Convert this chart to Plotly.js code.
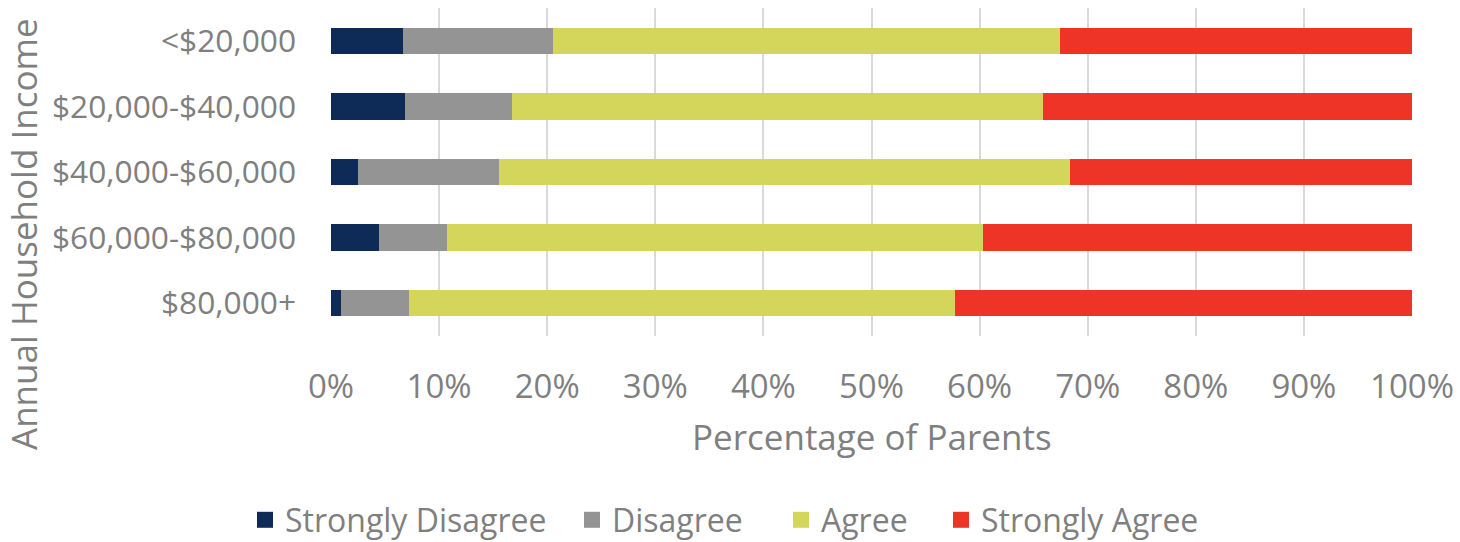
<!DOCTYPE html>
<html>
<head>
<meta charset="utf-8">
<script src="https://cdn.plot.ly/plotly-3.0.1.min.js"></script>
<style>html,body{margin:0;padding:0;background:#fff;}#chart{width:1460px;height:542px;}</style>
</head>
<body>
<div id="chart"></div>
<script>
const categories = ["<$20,000", "$20,000-$40,000", "$40,000-$60,000", "$60,000-$80,000", "$80,000+"];
const seriesNames = ["Strongly Disagree", "Disagree", "Agree", "Strongly Agree"];
const stronglyDisagree = [0.067, 0.068, 0.025, 0.044, 0.009];
const disagree = [0.138, 0.099, 0.130, 0.063, 0.063];
const agree = [0.469, 0.492, 0.529, 0.496, 0.505];
const stronglyAgree = [0.326, 0.341, 0.316, 0.397, 0.423];
const xTickVals = [0, 0.1, 0.2, 0.3, 0.4, 0.5, 0.6, 0.7, 0.8, 0.9, 1.0];
const xTickText = ["0%", "10%", "20%", "30%", "40%", "50%", "60%", "70%", "80%", "90%", "100%"];
const xTitle = "Percentage of Parents";
const yTitle = "Annual Household Income";

const colors = ["#0e2a57", "#949494", "#d3d65a", "#ee3426"];
const values = [stronglyDisagree, disagree, agree, stronglyAgree];
const legendIds = ["legend", "legend2", "legend3", "legend4"];
const legendX = [245, 572, 781, 941];
const FONT = "Open Sans, Noto Sans, sans-serif";
const GREY = "#7f7f7f";

const data = [];
values.forEach((v, i) => {
  data.push({
    type: "bar",
    orientation: "h",
    name: seriesNames[i],
    y: categories,
    x: v,
    marker: {color: colors[i], line: {width: 0}},
    width: 0.4,
    showlegend: false,
    hoverinfo: "skip"
  });
});
// legend entries (one legend per series so each can be placed like the reference)
values.forEach((v, i) => {
  data.push({
    type: "scatter",
    mode: "markers",
    name: seriesNames[i],
    x: [null],
    y: [null],
    marker: {color: colors[i], symbol: "square", size: 18},
    legend: legendIds[i],
    showlegend: true,
    hoverinfo: "skip"
  });
});

const layout = {
  width: 1460,
  height: 542,
  margin: {l: 331, r: 48, t: 8, b: 206},
  paper_bgcolor: "#ffffff",
  plot_bgcolor: "#ffffff",
  barmode: "stack",
  showlegend: true,
  font: {family: FONT, color: GREY, size: 28},
  xaxis: {
    range: [0, 1],
    tickvals: xTickVals,
    ticktext: xTickText,
    showgrid: true,
    gridcolor: "#d9d9d9",
    gridwidth: 2,
    zeroline: false,
    showline: false,
    ticks: "",
    automargin: false,
    ticklabelstandoff: 28,
    tickfont: {family: FONT, size: 33, color: GREY}
  },
  yaxis: {
    type: "category",
    categoryorder: "array",
    categoryarray: categories,
    autorange: "reversed",
    showgrid: false,
    zeroline: false,
    showline: false,
    ticks: "",
    automargin: false,
    ticklabelstandoff: 34,
    tickfont: {family: FONT, size: 31.7, color: GREY}
  },
  annotations: [
    {text: xTitle, xref: "paper", yref: "paper", x: 0.5, y: (336 - 436) / 328,
     xanchor: "center", yanchor: "middle", showarrow: false,
     font: {family: FONT, size: 35, color: GREY}},
    {text: yTitle, xref: "paper", yref: "paper", x: (24 - 331) / 1081, y: (336 - 234) / 328,
     xanchor: "center", yanchor: "middle", showarrow: false, textangle: -90,
     font: {family: FONT, size: 35, color: GREY}}
  ]
};
legendIds.forEach((id, i) => {
  layout[id] = {
    orientation: "h",
    xref: "container",
    yref: "container",
    x: legendX[i] / 1460,
    xanchor: "left",
    y: (542 - 520) / 542,
    yanchor: "middle",
    bgcolor: "rgba(0,0,0,0)",
    borderwidth: 0,
    font: {family: FONT, size: 32, color: GREY},
    itemwidth: 30
  };
});

Plotly.newPlot("chart", data, layout, {displayModeBar: false, staticPlot: true});
</script>
</body>
</html>
